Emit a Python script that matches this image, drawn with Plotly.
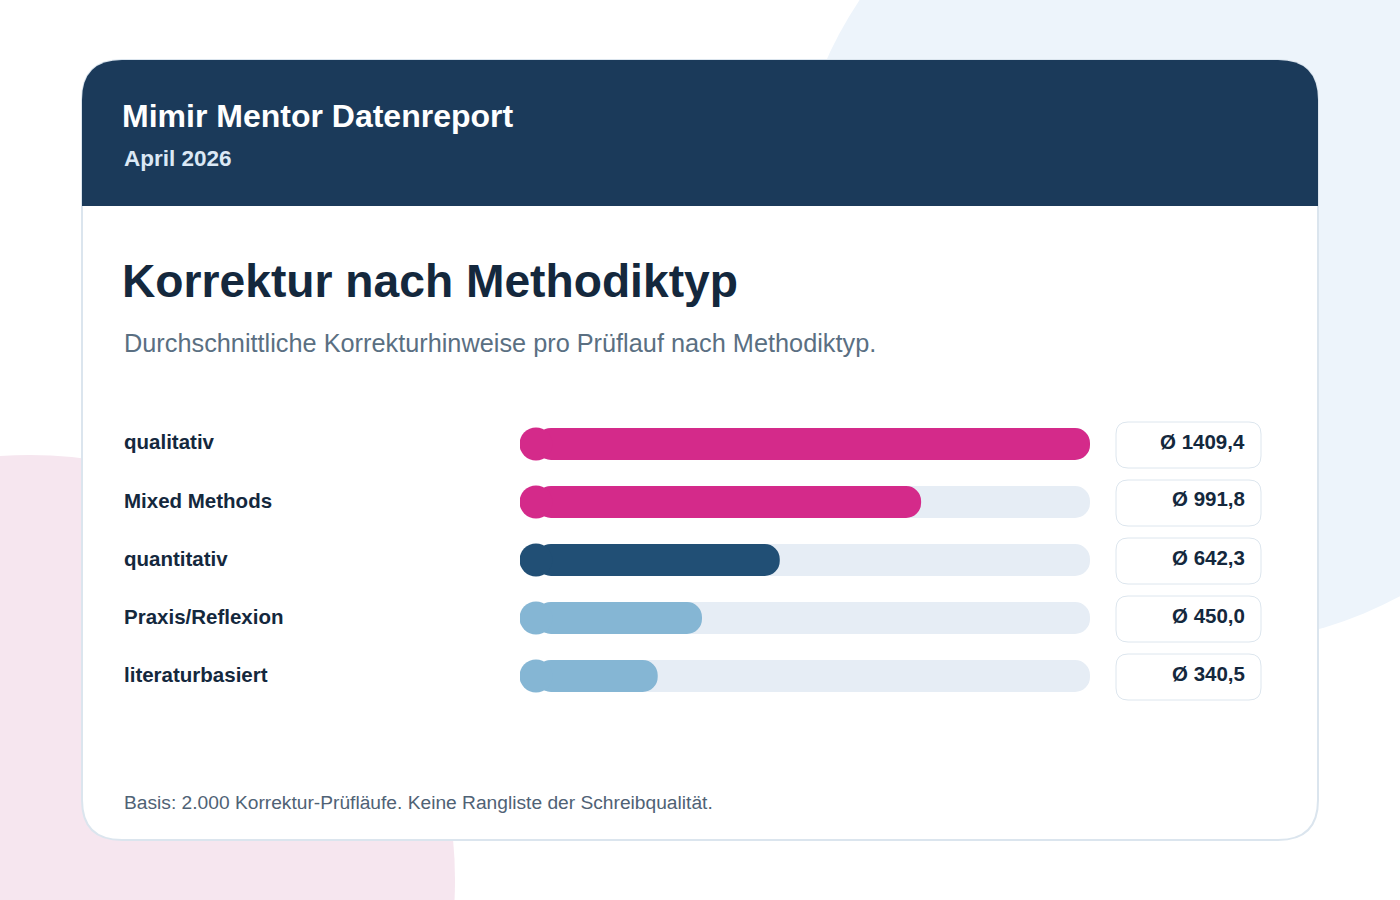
import plotly.graph_objects as go

# --- Daten ---
kategorien = ["qualitativ", "Mixed Methods", "quantitativ", "Praxis/Reflexion", "literaturbasiert"]
werte = [1409.4, 991.8, 642.3, 450.0, 340.5]
wert_labels = ["Ø 1409,4", "Ø 991,8", "Ø 642,3", "Ø 450,0", "Ø 340,5"]
farben = ["#d42a8a", "#d42a8a", "#214f75", "#85b6d4", "#85b6d4"]

W, H = 1400, 900
X0_BAR, X1_BAR = 520, 1090
R_BAR = 16  # Pixel-Radius der Balkenenden
r_daten = R_BAR * max(werte) / (X1_BAR - X0_BAR)


def px(x):
    return x / W


def py(y):
    return 1 - y / H


def rund_rect(x0, y0, x1, y1, r, oben_nur=False):
    # abgerundetes Rechteck als SVG-Pfad in Paper-Koordinaten
    rb = 0 if oben_nur else r
    pts = [
        f"M {px(x0 + r)} {py(y0)}",
        f"L {px(x1 - r)} {py(y0)}",
        f"Q {px(x1)} {py(y0)} {px(x1)} {py(y0 + r)}",
        f"L {px(x1)} {py(y1 - rb)}",
        f"Q {px(x1)} {py(y1)} {px(x1 - rb)} {py(y1)}",
        f"L {px(x0 + rb)} {py(y1)}",
        f"Q {px(x0)} {py(y1)} {px(x0)} {py(y1 - rb)}",
        f"L {px(x0)} {py(y0 + r)}",
        f"Q {px(x0)} {py(y0)} {px(x0 + r)} {py(y0)}",
        "Z",
    ]
    return " ".join(pts)


fig = go.Figure()

basis = r_daten
# graue Spur (linkes Ende wird vom farbigen Kreis verdeckt)
fig.add_trace(go.Bar(
    y=kategorien, x=[max(werte) - basis] * len(werte), base=basis, orientation="h",
    marker=dict(color="#e6edf5", cornerradius=R_BAR, line_width=0), width=0.55,
    hoverinfo="skip", showlegend=False,
))
fig.add_trace(go.Bar(
    y=kategorien, x=[w - basis for w in werte], base=basis, orientation="h",
    marker=dict(color=farben, cornerradius=R_BAR, line_width=0), width=0.55,
    hoverinfo="skip", showlegend=False,
))
# runde linke Enden
fig.add_trace(go.Scatter(
    y=kategorien, x=[r_daten] * len(werte), mode="markers",
    marker=dict(color=farben, size=2 * R_BAR + 1, line_width=0),
    hoverinfo="skip", showlegend=False,
))

shapes = [
    dict(type="circle", xref="paper", yref="paper", layer="below",
         x0=px(790), x1=px(1620), y0=py(-185), y1=py(645),
         fillcolor="#edf4fb", line_width=0),
    dict(type="circle", xref="paper", yref="paper", layer="below",
         x0=px(-395), x1=px(455), y0=py(455), y1=py(1305),
         fillcolor="#f6e6ef", line_width=0),
    dict(type="path", xref="paper", yref="paper", layer="below",
         path=rund_rect(82, 60, 1318, 840, 40),
         fillcolor="white", line=dict(color="#dbe5ee", width=2)),
    dict(type="path", xref="paper", yref="paper", layer="below",
         path=rund_rect(82, 60, 1318, 206, 40, oben_nur=True),
         fillcolor="#1b3a5a", line_width=0),
]

annotations = [
    dict(text="<b>Mimir Mentor Datenreport</b>", x=px(120), y=py(116), xanchor="left", yanchor="middle",
         font=dict(size=32, color="white")),
    dict(text="<b>April 2026</b>", x=px(122), y=py(158), xanchor="left", yanchor="middle",
         font=dict(size=22.5, color="#dbe8f5")),
    dict(text="<b>Korrektur nach Methodiktyp</b>", x=px(120), y=py(281), xanchor="left", yanchor="middle",
         font=dict(size=46.2, color="#14283d")),
    dict(text="Durchschnittliche Korrekturhinweise pro Prüflauf nach Methodiktyp.", x=px(122), y=py(343),
         xanchor="left", yanchor="middle", font=dict(size=25.3, color="#5a6f82")),
    dict(text="Basis: 2.000 Korrektur-Prüfläufe. Keine Rangliste der Schreibqualität.", x=px(122), y=py(802),
         xanchor="left", yanchor="middle", font=dict(size=19.2, color="#4f6275")),
]

for i, (kat, lab) in enumerate(zip(kategorien, wert_labels)):
    yc = 444 + 58 * i
    annotations.append(dict(text=f"<b>{kat}</b>", x=px(122), y=py(yc - 2), xanchor="left", yanchor="middle",
                            font=dict(size=20.5, color="#14283d")))
    shapes.append(dict(type="path", xref="paper", yref="paper",
                       path=rund_rect(1116, yc - 22, 1261, yc + 24, 12),
                       fillcolor="white", line=dict(color="#dde6ee", width=1)))
    annotations.append(dict(text=f"<b>{lab}</b>", x=px(1247), y=py(yc - 3), xanchor="right", yanchor="middle",
                            font=dict(size=20.5, color="#14283d")))

for a in annotations:
    a.update(xref="paper", yref="paper", showarrow=False)

fig.update_layout(
    width=W, height=H, margin=dict(l=0, r=0, t=0, b=0),
    paper_bgcolor="white", plot_bgcolor="rgba(0,0,0,0)",
    font=dict(family="Liberation Sans, Arial, sans-serif"),
    barmode="overlay", shapes=shapes, annotations=annotations,
    xaxis=dict(domain=[px(X0_BAR), px(X1_BAR)], range=[0, max(werte)], visible=False, fixedrange=True),
    yaxis=dict(domain=[py(705), py(415)], range=[4.5, -0.5], visible=False, fixedrange=True),
)

fig.write_html("out.html", config={"displayModeBar": False},
               post_script="document.body.style.margin='0';")
